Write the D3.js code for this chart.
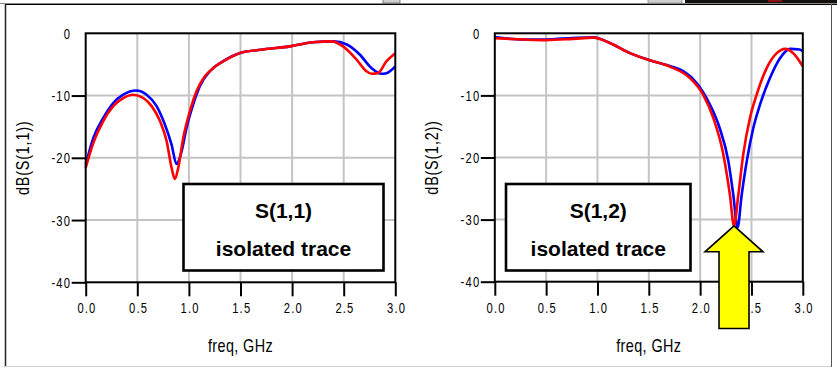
<!DOCTYPE html>
<html>
<head>
<meta charset="utf-8">
<script src="https://cdn.jsdelivr.net/npm/d3@7"></script>
<style>
  html, body { margin: 0; padding: 0; background: #fff; }
  svg { display: block; }
  .tick-label { font-family: "Liberation Sans", Arial, sans-serif; font-size: 14px; letter-spacing: 1.5px; fill: #000; }
  .axis-title { font-family: "Liberation Sans", Arial, sans-serif; font-size: 18px; fill: #000; }
  .box-text { font-family: "Liberation Sans", Arial, sans-serif; font-size: 21px; font-weight: bold; fill: #000; text-anchor: middle; }
</style>
</head>
<body>
<svg id="chart" width="837" height="368"></svg>
<script>
// Axis ticks shared by both panels
const freqTicks = [0, 0.5, 1.0, 1.5, 2.0, 2.5, 3.0];
const dbTicks = [0, -10, -20, -30, -40];

// S(1,1) traces
const s11BlueFreq = [0, 0.074, 0.17, 0.267, 0.364, 0.487, 0.59, 0.687, 0.768, 0.832, 0.88, 0.929, 0.977, 1.04, 1.106, 1.203, 1.33, 1.49, 1.72, 1.98, 2.2, 2.4, 2.53, 2.655, 2.77, 2.865, 2.914, 3.0];
const s11BlueDb   = [-21.1, -16.8, -13.6, -11.2, -9.86, -9.2, -9.86, -11.7, -14.7, -17.9, -21.0, -19.0, -15.2, -11.5, -8.5, -6.1, -4.5, -3.2, -2.6, -2.1, -1.45, -1.3, -1.8, -3.4, -5.6, -6.5, -6.4, -5.3];
const s11RedFreq  = [0, 0.074, 0.17, 0.267, 0.364, 0.46, 0.558, 0.639, 0.72, 0.784, 0.832, 0.864, 0.897, 0.945, 1.01, 1.074, 1.155, 1.235, 1.365, 1.49, 1.72, 1.98, 2.2, 2.38, 2.494, 2.623, 2.72, 2.77, 2.83, 2.914, 3.0];
const s11RedDb    = [-21.6, -17.6, -14.1, -11.7, -10.4, -9.86, -10.4, -11.7, -14.1, -17.3, -21.6, -23.4, -21.6, -16.8, -12.5, -9.3, -6.9, -5.6, -4.2, -3.2, -2.6, -2.1, -1.45, -1.3, -2.1, -4.2, -6.1, -6.5, -6.4, -4.5, -3.2];

// S(1,2) traces
const s12BlueFreq = [0, 0.28, 0.5, 0.76, 0.96, 1.12, 1.317, 1.51, 1.71, 1.836, 1.966, 2.096, 2.19, 2.275, 2.323, 2.364, 2.405, 2.454, 2.518, 2.583, 2.68, 2.778, 2.875, 2.97, 3.0];
const s12BlueDb   = [-0.6, -1.0, -1.0, -0.75, -0.64, -1.56, -3.2, -4.35, -5.3, -6.1, -8.0, -11.5, -15.25, -20.6, -26, -31.3, -26, -20.6, -15.25, -11.5, -7.2, -4.0, -2.5, -2.6, -2.9];
const s12RedFreq  = [0, 0.28, 0.5, 0.76, 0.96, 1.12, 1.317, 1.51, 1.71, 1.9, 2.03, 2.128, 2.226, 2.29, 2.33, 2.372, 2.42, 2.486, 2.55, 2.648, 2.746, 2.826, 2.907, 3.0];
const s12RedDb    = [-0.8, -1.0, -1.1, -0.9, -0.7, -1.56, -3.2, -4.35, -5.4, -7.2, -9.9, -13.6, -19.5, -26, -31, -26, -19.5, -13.6, -9.9, -5.6, -3.2, -2.5, -3.2, -5.3];

// Point marked by the arrow on the S(1,2) panel
const arrowFreq = 2.33;
const arrowDb = -31;

// Condensed look for the axis lettering
const NARROW = 0.8;

const svg = d3.select("#chart");

// Window frame
const frame = svg.append("g");
frame.append("line").attr("x1", 0).attr("x2", 837).attr("y1", 3.5).attr("y2", 3.5).attr("stroke", "#888").attr("stroke-width", 1);
frame.append("line").attr("x1", 5).attr("x2", 837).attr("y1", 4.5).attr("y2", 4.5).attr("stroke", "#000").attr("stroke-width", 1);
frame.append("line").attr("x1", 5.5).attr("x2", 5.5).attr("y1", 4).attr("y2", 367).attr("stroke", "#222").attr("stroke-width", 1.5);
frame.append("line").attr("x1", 5).attr("x2", 832).attr("y1", 366.5).attr("y2", 366.5).attr("stroke", "#cfcfcf").attr("stroke-width", 1);
frame.append("line").attr("x1", 831.5).attr("x2", 831.5).attr("y1", 4).attr("y2", 367).attr("stroke", "#555").attr("stroke-width", 1);
frame.append("rect").attr("x", 383).attr("y", -1).attr("width", 17).attr("height", 4).attr("fill", "#d0d0d0").attr("stroke", "#666").attr("stroke-width", 0.8);
frame.append("rect").attr("x", 648).attr("y", -1).attr("width", 34).attr("height", 4).attr("fill", "#d0d0d0").attr("stroke", "#888").attr("stroke-width", 0.8);
frame.append("rect").attr("x", 685).attr("y", 0).attr("width", 152).attr("height", 3).attr("fill", "#141010");
frame.append("rect").attr("x", 768).attr("y", 0).attr("width", 14).attr("height", 2).attr("fill", "#8a1010");

const panels = [
  {
    left: 85.7, right: 395.3, top: 33.3, bottom: 282.3,
    yTitle: "dB(S(1,1))", yTitleX: 29,
    series: [
      { freq: s11BlueFreq, db: s11BlueDb, color: "#0000ff" },
      { freq: s11RedFreq, db: s11RedDb, color: "#ff0000" }
    ],
    box: { x0: 183.5, y0: 184, x1: 383.5, y1: 270.5 },
    boxTitle: "S(1,1)"
  },
  {
    left: 494.8, right: 802.8, top: 33.3, bottom: 281.7,
    yTitle: "dB(S(1,2))", yTitleX: 438,
    series: [
      { freq: s12BlueFreq, db: s12BlueDb, color: "#0000ff" },
      { freq: s12RedFreq, db: s12RedDb, color: "#ff0000" }
    ],
    box: { x0: 506, y0: 184, x1: 690.5, y1: 270.5 },
    boxTitle: "S(1,2)",
    arrow: true
  }
];

panels.forEach(p => {
  const x = d3.scaleLinear().domain([0, 3]).range([p.left, p.right]);
  const y = d3.scaleLinear().domain([0, -40]).range([p.top, p.bottom]);
  const g = svg.append("g");

  // grid
  g.selectAll(".vgrid").data(freqTicks.slice(1, -1)).join("line")
    .attr("x1", d => x(d)).attr("x2", d => x(d))
    .attr("y1", p.top).attr("y2", p.bottom)
    .attr("stroke", "#c4c4c4").attr("stroke-width", 2);
  g.selectAll(".hgrid").data(dbTicks.slice(1, -1)).join("line")
    .attr("x1", p.left).attr("x2", p.right)
    .attr("y1", d => y(d)).attr("y2", d => y(d))
    .attr("stroke", "#c4c4c4").attr("stroke-width", 2);

  // traces
  const line = d3.line().curve(d3.curveMonotoneX).x(d => x(d[0])).y(d => y(d[1]));
  p.series.forEach(s => {
    const pts = s.freq.map((f, i) => [f, s.db[i]]);
    g.append("path").attr("d", line(pts))
      .attr("fill", "none").attr("stroke", s.color).attr("stroke-width", 2.6)
      .attr("stroke-linejoin", "round");
  });

  // plot border
  g.append("rect").attr("x", p.left).attr("y", p.top)
    .attr("width", p.right - p.left).attr("height", p.bottom - p.top)
    .attr("fill", "none").attr("stroke", "#000").attr("stroke-width", 2);

  // y axis ticks and labels
  const yAxis = d3.axisLeft(y).tickValues(dbTicks).tickSize(14).tickPadding(2).tickFormat(d3.format("d"));
  const ya = g.append("g").attr("transform", `translate(${p.left},0)`).call(yAxis);
  ya.select(".domain").remove();
  ya.attr("font-family", null).attr("font-size", null);
  ya.selectAll(".tick line").attr("stroke", "#000").attr("stroke-width", 2)
    .attr("display", d => d === 0 ? "none" : null);
  ya.selectAll(".tick text").attr("class", "tick-label")
    .attr("transform", `scale(${NARROW},1)`)
    .attr("x", -14.5 / NARROW).attr("dy", "0.36em")
    .text(d => d === 0 ? "0" : "-" + Math.abs(d));

  // x axis ticks and labels
  const xAxis = d3.axisBottom(x).tickValues(freqTicks).tickSize(14).tickPadding(6).tickFormat(d3.format(".1f"));
  const xa = g.append("g").attr("transform", `translate(0,${p.bottom})`).call(xAxis);
  xa.select(".domain").remove();
  xa.attr("font-family", null).attr("font-size", null);
  xa.selectAll(".tick line").attr("stroke", "#000").attr("stroke-width", 2);
  xa.selectAll(".tick text").attr("class", "tick-label")
    .attr("transform", `scale(${NARROW},1)`)
    .attr("x", 0.75 / NARROW).attr("y", 26).attr("dy", "0.36em");

  // axis titles
  g.append("text").attr("class", "axis-title")
    .attr("transform", `translate(${(p.left + p.right) / 2},351.5) scale(${NARROW},1)`)
    .attr("letter-spacing", "0.5px")
    .attr("text-anchor", "middle").text("freq, GHz");
  g.append("text").attr("class", "axis-title")
    .attr("transform", `translate(${p.yTitleX},${(p.top + p.bottom) / 2}) rotate(-90) scale(${NARROW},1)`)
    .attr("letter-spacing", "1px")
    .attr("text-anchor", "middle").text(p.yTitle);

  // caption box
  const b = p.box;
  g.append("rect").attr("x", b.x0).attr("y", b.y0)
    .attr("width", b.x1 - b.x0).attr("height", b.y1 - b.y0)
    .attr("fill", "#fff").attr("stroke", "#000").attr("stroke-width", 2.6);
  const cx = (b.x0 + b.x1) / 2;
  g.append("text").attr("class", "box-text").attr("x", cx).attr("y", 218).text(p.boxTitle);
  g.append("text").attr("class", "box-text").attr("x", cx).attr("y", 255.5).text("isolated trace");

  // yellow arrow pointing at the S(1,2) notch
  if (p.arrow) {
    const tx = x(arrowFreq), ty = y(arrowDb);
    const headW = 29, headH = 26, shaftW = 15, shaftBottom = 328.5;
    const pts = [
      [tx, ty],
      [tx + headW, ty + headH],
      [tx + shaftW, ty + headH],
      [tx + shaftW, shaftBottom],
      [tx - shaftW, shaftBottom],
      [tx - shaftW, ty + headH],
      [tx - headW, ty + headH]
    ];
    svg.append("polygon").attr("points", pts.map(d => d.join(",")).join(" "))
      .attr("fill", "#ffff00").attr("stroke", "#000").attr("stroke-width", 1.6)
      .attr("stroke-linejoin", "miter");
  }
});
</script>
</body>
</html>
